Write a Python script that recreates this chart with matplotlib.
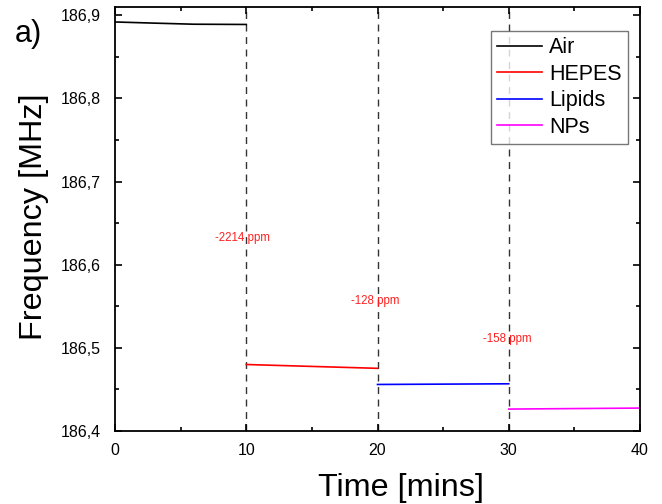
import matplotlib
matplotlib.use("Agg")
import matplotlib.pyplot as plt
from matplotlib.ticker import MultipleLocator, FuncFormatter

plt.rcParams['font.family'] = ['Liberation Sans', 'DejaVu Sans']

# data
air_t = [0, 3, 6, 10]
air_f = [186.892, 186.8906, 186.8893, 186.889]
hepes_t = [10, 20]
hepes_f = [186.480, 186.4754]
lipids_t = [20, 30]
lipids_f = [186.456, 186.4568]
nps_t = [30, 40]
nps_f = [186.4264, 186.4276]

step_times = [10, 20, 30]
shift_labels = ['-2214 ppm', '-128 ppm', '-158 ppm']
shift_x = [7.62, 17.98, 28.01]
shift_y = [186.632, 186.5566, 186.511]

fig = plt.figure(figsize=(6.62, 5.04), dpi=100)
ax = fig.add_axes([0.1737, 0.1448, 0.7931, 0.8413])

ax.plot(air_t, air_f, color='black', lw=1.2, label='Air')
ax.plot(hepes_t, hepes_f, color='red', lw=1.2, label='HEPES')
ax.plot(lipids_t, lipids_f, color='blue', lw=1.2, label='Lipids')
ax.plot(nps_t, nps_f, color='magenta', lw=1.2, label='NPs')

for t in step_times:
    ax.axvline(t, color='#333333', lw=1, ls=(0, (5, 4)), zorder=0)

for lab, x, y in zip(shift_labels, shift_x, shift_y):
    ax.text(x, y, lab, color='#ff2020', fontsize=8.3, ha='left', va='center')

ax.set_xlim(0, 40)
ax.set_ylim(186.4, 186.91)
ax.xaxis.set_major_locator(MultipleLocator(10))
ax.xaxis.set_minor_locator(MultipleLocator(5))
ax.yaxis.set_major_locator(MultipleLocator(0.1))
ax.yaxis.set_minor_locator(MultipleLocator(0.05))
ax.yaxis.set_major_formatter(FuncFormatter(lambda v, p: ('%.1f' % v).replace('.', ',')))

ax.tick_params(which='both', direction='in', top=True, right=True, width=1.2, labelsize=11.5)
ax.tick_params(which='major', length=5)
ax.tick_params(which='minor', length=3)
ax.tick_params(axis='y', pad=10.5)
ax.tick_params(axis='x', pad=8.5)
for s in ax.spines.values():
    s.set_linewidth(1.3)

ax.set_xlabel('Time [mins]', fontsize=23.3, labelpad=11)
ax.set_ylabel('Frequency [MHz]', fontsize=23.3, labelpad=8)
ax.xaxis.label.set_x(0.545)
ax.yaxis.label.set_y(0.505)

leg = ax.legend(loc='upper right', bbox_to_anchor=(628 / 662, 1 - 31 / 504),
                bbox_transform=fig.transFigure, borderaxespad=0,
                fontsize=15.5, handlelength=2.1, fancybox=False,
                labelspacing=0.25, handletextpad=0.3, borderpad=0.3)
leg.get_frame().set_edgecolor('#555555')
leg.get_frame().set_linewidth(1)

fig.text(0.022, 0.932, 'a)', fontsize=22, ha='left', va='center')

fig.savefig('out.png', dpi=100)
